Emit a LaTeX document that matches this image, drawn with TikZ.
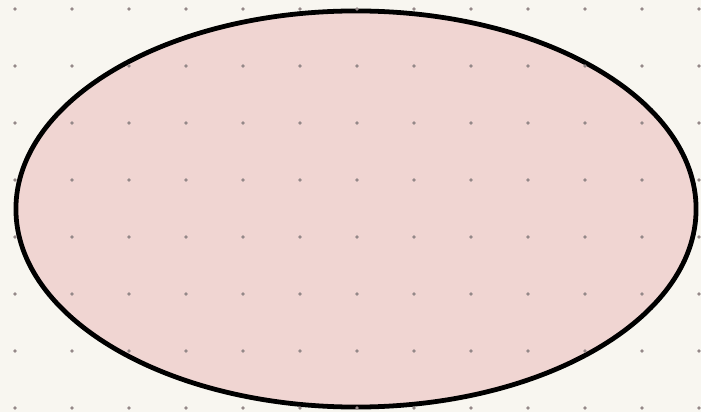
\documentclass[tikz,border=0pt]{standalone}
\usetikzlibrary{shapes.geometric}
\definecolor{paper}{HTML}{F8F6F0}
\definecolor{blush}{HTML}{F0D5D2}
\definecolor{dotgray}{HTML}{948888}
\begin{document}
\begin{tikzpicture}[
    x=0.025cm, y=-0.025cm,
    blob/.style={draw=black,ellipse,fill=blush,line width=3.4pt,inner sep=0pt,minimum width=17cm,minimum height=9.9cm},
    griddot/.style={fill=dotgray,draw=none}
]
% paper and margins
\fill[paper] (0,0) rectangle (701,412);
\useasboundingbox (0,0) rectangle (701,412);
\node[blob] (blob) at (356,209) {};
% dotted grid over everything
\foreach \i in {0,...,12}
  \foreach \j in {0,...,7}
    \fill[griddot] (15+57*\i,9+57*\j) circle (1.8);
\end{tikzpicture}
\end{document}
